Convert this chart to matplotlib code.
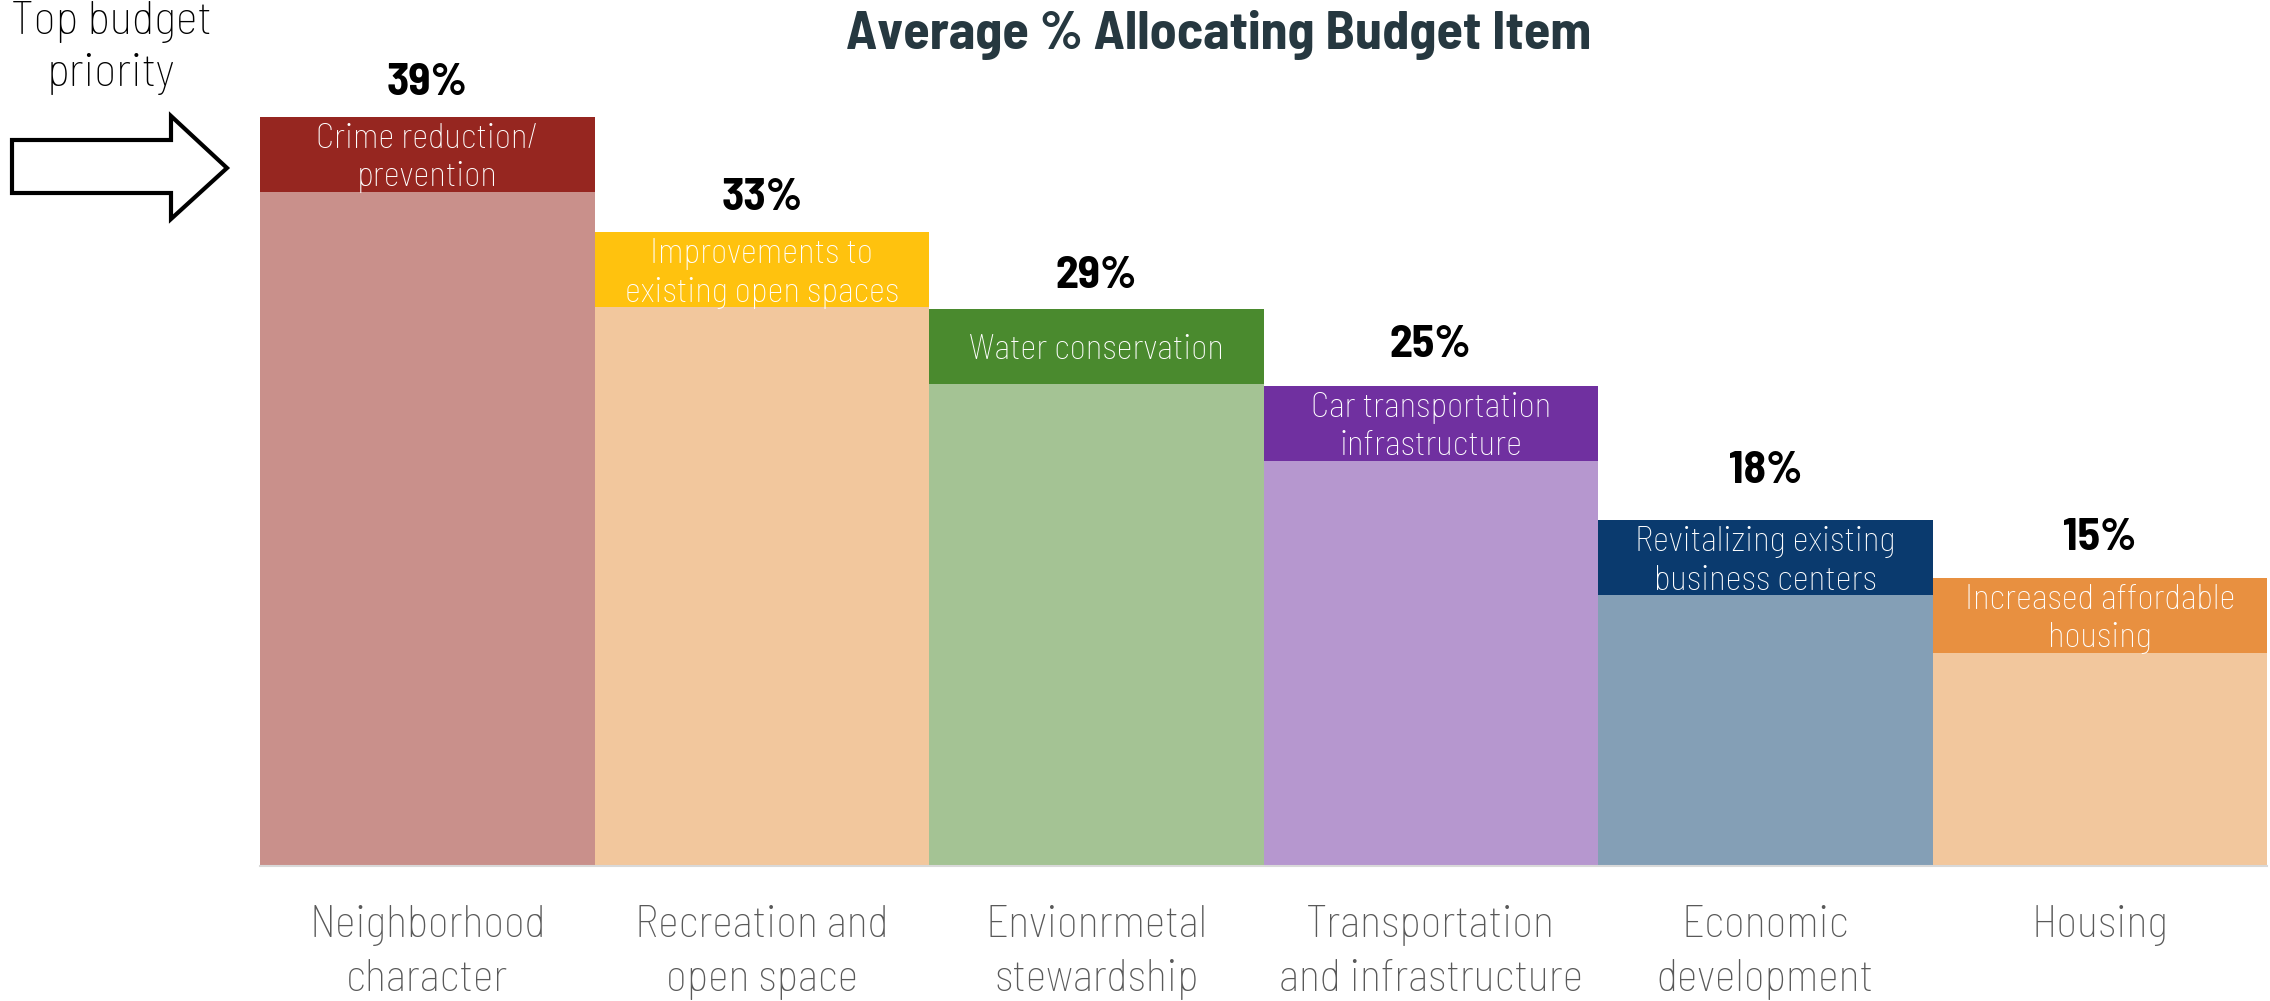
import matplotlib.pyplot as plt
import matplotlib.patches as mpatches

plt.rcParams["font.family"] = ["Barlow Semi Condensed", "DejaVu Sans"]
plt.rcParams["font.stretch"] = "condensed"

# Data
categories = ["Neighborhood\ncharacter", "Recreation and\nopen space",
              "Envionrmetal\nstewardship", "Transportation\nand infrastructure",
              "Economic\ndevelopment", "Housing"]
top_items = ["Crime reduction/\nprevention", "Improvements to\nexisting open spaces",
             "Water conservation", "Car transportation\ninfrastructure",
             "Revitalizing existing\nbusiness centers", "Increased affordable\nhousing"]
values = [39, 33, 29, 25, 18, 15]

light_colors = ["#C9908B", "#F2C79D", "#A4C394", "#B697CF", "#849FB6", "#F2C79D"]
dark_colors = ["#962620", "#FFC20E", "#4A8A2E", "#7030A0", "#0A3A6E", "#E89040"]
band = 3.9  # height of the dark header strip, in % units
label_gap = [1.16, 1.18, 1.09, 1.48, 1.94, 1.46]  # baseline of % labels above bar top

fig = plt.figure(figsize=(22.7, 10.01), dpi=100)
ax = fig.add_axes([260 / 2270, 135 / 1001, 2007 / 2270, 845 / 1001])
x = list(range(len(values)))

ax.bar(x, values, width=1.0, color=light_colors, linewidth=0)
ax.bar(x, [band] * len(values), bottom=[v - band for v in values],
       width=1.0, color=dark_colors, linewidth=0)

for i, (v, item) in enumerate(zip(values, top_items)):
    ax.text(i, v + label_gap[i], f"{v}%", ha="center", va="baseline",
            fontsize=33, fontweight="bold", color="black")
    ax.text(i, v - band / 2 - 0.2, item, ha="center", va="center",
            fontsize=25, fontweight="light", color="white", linespacing=1.25)

ax.set_xlim(-0.5, 5.5)
ax.set_ylim(0, 44)
ax.set_yticks([])
ax.set_xticks(x)
ax.set_xticklabels(categories, fontsize=32, fontweight="light", color="#595959",
                   linespacing=1.42)
ax.tick_params(axis="x", length=0, pad=28)
for s in ["top", "right", "left"]:
    ax.spines[s].set_visible(False)
ax.spines["bottom"].set_color("#D9D9D9")
ax.spines["bottom"].set_linewidth(1.5)

fig.text(1219 / 2270, 1 - 35 / 1001, "Average % Allocating Budget Item",
         ha="center", va="center", fontsize=39, fontweight="bold", color="#263840")
fig.text(111 / 2270, 1 - 48 / 1001, "Top budget\npriority", ha="center",
         va="center", fontsize=34, fontweight="light", color="black", linespacing=1.3)

# Block arrow pointing at the first bar
arrow_pts = [(12, 140), (171, 140), (171, 116), (227, 168), (171, 219),
             (171, 193), (12, 193)]
arrow = mpatches.Polygon([(px / 2270, 1 - py / 1001) for px, py in arrow_pts],
                         closed=True, facecolor="white", edgecolor="black",
                         linewidth=3, joinstyle="miter", transform=fig.transFigure)
fig.patches.append(arrow)

fig.savefig("out.png", dpi=100, facecolor="white")
